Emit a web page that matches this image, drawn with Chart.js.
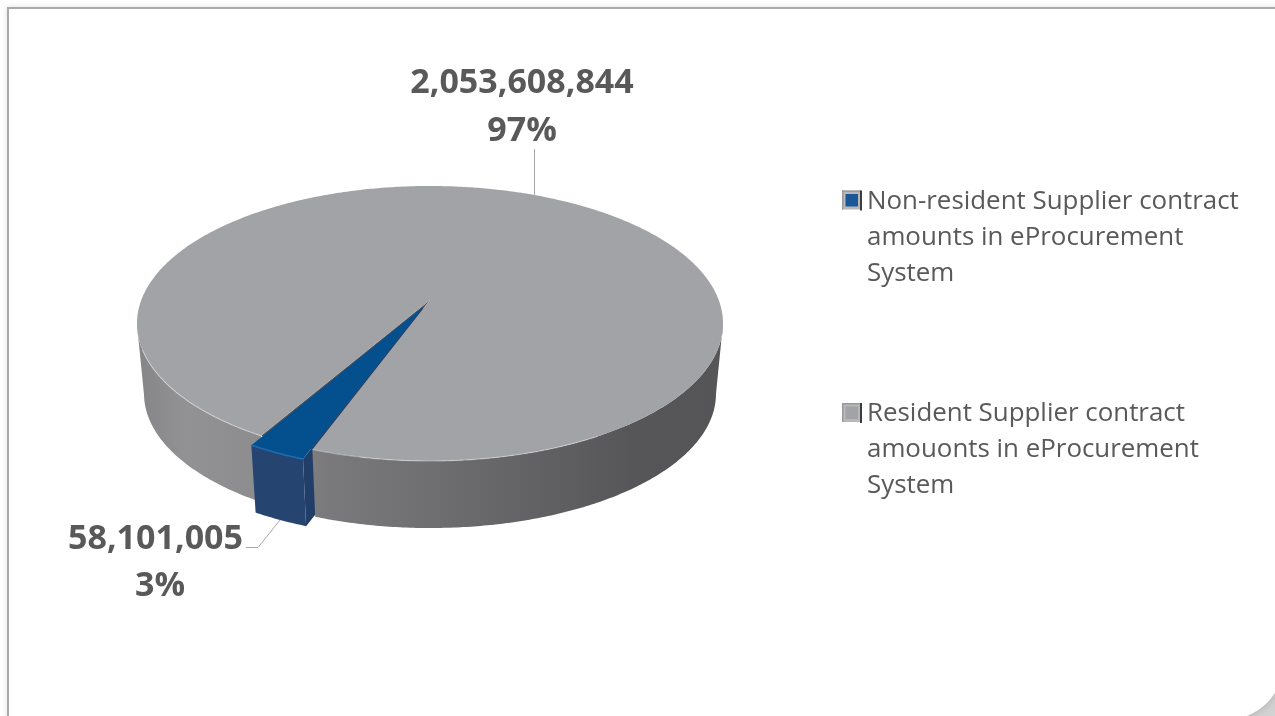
<!DOCTYPE html>
<html lang="en">
<head>
    <meta charset="UTF-8">
    <title>eProcurement contract amounts</title>
    <script src="https://cdn.jsdelivr.net/npm/chart.js"></script>
    <style>
        html, body {
            margin: 0;
            height: 100%;
            overflow: hidden;
            background: #fff;
        }
        /* Grey showing behind the rounded corner of the frame */
        .corner {
            position: absolute;
            right: 0;
            bottom: 0;
            width: 50px;
            height: 40px;
            background: linear-gradient(to bottom right, #b4b4b4, #d4d4d4);
        }
        /* Page frame, runs past the window on the right and bottom */
        .frame {
            position: absolute;
            left: 7px;
            top: 7px;
            width: 1278px;
            height: 713px;
            box-sizing: border-box;
            background: #fff;
            border-left: 2px solid #a9a9ad;
            border-top: 2px solid #a9a9ad;
            border-bottom-right-radius: 60px;
            box-shadow: 0 0 6px rgba(0, 0, 0, 0.12);
        }
        canvas {
            position: absolute;
            left: 0;
            top: 0;
        }
    </style>
</head>
<body>
    <div class="corner"></div>
    <div class="frame"></div>
    <canvas id="pieChart" width="1275" height="716"></canvas>

    <script>
        // Chart values
        const categories = [
            'Non-resident Supplier contract amounts in eProcurement System',
            'Resident Supplier contract amouonts in eProcurement System'
        ];
        const contractAmounts = [58101005, 2053608844];
        const sliceColors = ['#04508f', '#a2a3a6'];
        const swatchColors = ['#1a5796', '#a2a3a6'];

        const textColor = '#595959';
        const leaderColor = '#a8a8a8';

        // Perspective of the tilted disc
        const tilt = 0.1708;        // how fast the disc grows towards the viewer
        const squash = 0.4624;      // height of the disc against its width
        const depthScale = 0.976;   // the underside sits further away
        const depthDrop = 70.9;     // drop of the underside, px

        // Map a point of the unit disc to the canvas, level 0 is the top, 1 the underside
        function project(arc, u, v, level) {
            const w = 1 - tilt * v;
            const s = level ? depthScale : 1;
            return {
                x: arc.x + arc.outerRadius * s * u / w,
                y: arc.y + (level ? depthDrop : 0) + arc.outerRadius * squash * s * v / w
            };
        }

        // Shift of an exploded slice, in disc units
        function sliceShift(arc) {
            const mid = (arc.startAngle + arc.endAngle) / 2;
            const d = arc.options.offset / arc.outerRadius;
            return { dx: Math.cos(mid) * d, dy: Math.sin(mid) * d };
        }

        function rimPoint(arc, angle, level) {
            const { dx, dy } = sliceShift(arc);
            return project(arc, Math.cos(angle) + dx, Math.sin(angle) + dy, level);
        }

        function centerPoint(arc, level) {
            const { dx, dy } = sliceShift(arc);
            return project(arc, dx, dy, level);
        }

        function anglesOf(arc) {
            const list = [];
            const steps = Math.ceil((arc.endAngle - arc.startAngle) / 0.01);
            for (let i = 0; i <= steps; i++) {
                list.push(arc.startAngle + (arc.endAngle - arc.startAngle) * i / steps);
            }
            return list;
        }

        function fillPolygon(ctx, points, fill) {
            ctx.beginPath();
            points.forEach((p, i) => i ? ctx.lineTo(p.x, p.y) : ctx.moveTo(p.x, p.y));
            ctx.closePath();
            ctx.fillStyle = fill;
            ctx.fill();
        }

        function drawTop(ctx, arc) {
            const points = [centerPoint(arc, 0)];
            anglesOf(arc).forEach(a => points.push(rimPoint(arc, a, 0)));
            fillPolygon(ctx, points, arc.options.backgroundColor);
        }

        // Split a slice's rim into unbroken runs that pass the test
        function rimRuns(arc, test) {
            const runs = [];
            let run = null;
            anglesOf(arc).forEach(a => {
                if (test(a)) {
                    if (!run) {
                        run = [];
                        runs.push(run);
                    }
                    run.push(a);
                } else {
                    run = null;
                }
            });
            return runs;
        }

        // Outer wall of a slice, only the part facing the viewer
        function drawWall(ctx, arc, paint) {
            rimRuns(arc, a => Math.sin(a) > tilt).forEach(run => {
                const points = run.map(a => rimPoint(arc, a, 0));
                run.slice().reverse().forEach(a => points.push(rimPoint(arc, a, 1)));
                fillPolygon(ctx, points, paint);
            });
        }

        function strokeRim(ctx, arc, test, color, width) {
            ctx.strokeStyle = color;
            ctx.lineWidth = width;
            rimRuns(arc, test).forEach(run => {
                ctx.beginPath();
                run.forEach((a, i) => {
                    const p = rimPoint(arc, a, 0);
                    i ? ctx.lineTo(p.x, p.y) : ctx.moveTo(p.x, p.y);
                });
                ctx.stroke();
            });
        }

        function wrapText(ctx, text, maxWidth) {
            const lines = [];
            let line = '';
            text.split(' ').forEach(word => {
                const next = line ? line + ' ' + word : word;
                if (line && ctx.measureText(next).width > maxWidth) {
                    lines.push(line);
                    line = word;
                } else {
                    line = next;
                }
            });
            lines.push(line);
            return lines;
        }

        // 3D pie: takes the slice angles from the arc elements
        const tiltedPie = {
            id: 'tiltedPie',
            beforeDatasetsDraw(chart) {
                const { ctx } = chart;
                const [small, large] = chart.getDatasetMeta(0).data;
                const wallPaint = ctx.createLinearGradient(137, 0, 723, 0);
                wallPaint.addColorStop(0, '#858587');
                wallPaint.addColorStop(0.08, '#929294');
                wallPaint.addColorStop(0.2, '#8d8d8f');
                wallPaint.addColorStop(0.32, '#7a7a7c');
                wallPaint.addColorStop(0.5, '#6f6f71');
                wallPaint.addColorStop(0.65, '#646466');
                wallPaint.addColorStop(0.85, '#565658');
                wallPaint.addColorStop(1, '#555557');

                ctx.save();
                // dark inside of the notch, then the cut face of the small slice
                fillPolygon(ctx, [
                    centerPoint(large, 0),
                    rimPoint(large, small.startAngle, 0),
                    rimPoint(large, small.endAngle, 0)
                ], '#55575e');
                fillPolygon(ctx, [
                    rimPoint(small, small.startAngle, 0),
                    centerPoint(small, 0),
                    centerPoint(small, 1),
                    rimPoint(small, small.startAngle, 1)
                ], '#203e67');

                drawWall(ctx, large, wallPaint);
                drawTop(ctx, large);
                strokeRim(ctx, large, a => Math.sin(a) > 0.35 && Math.cos(a) < 0.5, 'rgba(255,255,255,0.35)', 1.2);

                drawWall(ctx, small, '#264470');
                drawTop(ctx, small);
                strokeRim(ctx, small, a => Math.sin(a) > 0, '#1c6db0', 1.5);
                ctx.restore();
                return false;
            },
            afterDraw(chart) {
                const { ctx } = chart;
                const total = contractAmounts.reduce((a, b) => a + b, 0);

                // Leader lines
                ctx.save();
                ctx.strokeStyle = leaderColor;
                ctx.lineWidth = 1;
                ctx.beginPath();
                ctx.moveTo(534.5, 149);
                ctx.lineTo(534.5, 195);
                ctx.moveTo(246, 547.5);
                ctx.lineTo(258, 547.5);
                ctx.lineTo(280, 520);
                ctx.stroke();

                // Data labels
                ctx.fillStyle = textColor;
                ctx.font = 'bold 34px "Open Sans"';
                ctx.textAlign = 'center';
                ctx.textBaseline = 'alphabetic';
                const anchors = [[155.5, 549, 160, 596], [522, 93, 522, 141]];
                contractAmounts.forEach((value, i) => {
                    const [x1, y1, x2, y2] = anchors[i];
                    ctx.fillText(value.toLocaleString('en-US'), x1, y1);
                    ctx.fillText(Math.round(value / total * 100) + '%', x2, y2);
                });

                // Legend
                const legendTops = [190.5, 403];
                ctx.textAlign = 'left';
                ctx.font = '25.9px "Open Sans"';
                categories.forEach((name, i) => {
                    const top = legendTops[i];
                    ctx.fillStyle = '#b8b8ba';
                    ctx.fillRect(842, top, 19, 19);
                    ctx.fillStyle = '#9a9a9e';
                    ctx.fillRect(842, top, 19, 1.5);
                    ctx.fillRect(842, top, 1.5, 19);
                    ctx.fillStyle = swatchColors[i];
                    ctx.fillRect(845.5, top + 3.5, 12.5, 12.5);
                    ctx.fillStyle = '#3c3c3e';
                    ctx.fillRect(860, top, 2, 20);

                    ctx.fillStyle = textColor;
                    wrapText(ctx, name, 380).forEach((line, n) => {
                        ctx.fillText(line, 867, top + 18 + n * 36.2);
                    });
                });
                ctx.restore();
            }
        };

        new Chart(document.getElementById('pieChart'), {
            type: 'pie',
            data: {
                labels: categories,
                datasets: [{
                    data: contractAmounts,
                    backgroundColor: sliceColors,
                    borderWidth: 0,
                    offset: [16, 0]
                }]
            },
            options: {
                responsive: false,
                animation: false,
                rotation: 200,
                layout: {
                    padding: { left: 133.3, right: 548.3, top: 3.3, bottom: 119.3 }
                },
                plugins: {
                    legend: { display: false },
                    tooltip: { enabled: false }
                }
            },
            plugins: [tiltedPie]
        });
    </script>
</body>
</html>
